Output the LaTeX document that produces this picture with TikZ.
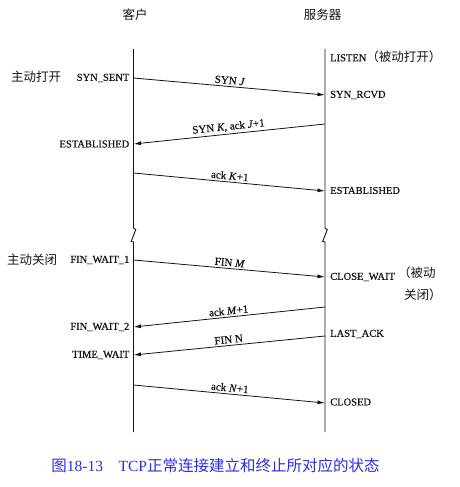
\documentclass[tikz,border=0pt]{standalone}
\usepackage{fontspec}
\setmainfont{Liberation Serif}
\newfontfamily\sfont{Liberation Serif}[FakeBold=0.6]
\newfontfamily\cjk{Noto Sans CJK SC}
\usetikzlibrary{arrows.meta}
\definecolor{capblue}{RGB}{45,45,235}
\definecolor{ink}{RGB}{20,20,20}
\begin{document}
\begin{tikzpicture}[x=1pt,y=-1pt,
  life/.style={draw=ink,line width=0.9pt},
  msg/.style={draw=ink,line width=0.8pt,-{Latex[length=7.5pt,width=4pt]}},
  lstate/.style={anchor=east,inner sep=0pt,font=\sfont\fontsize{10.5}{12}\selectfont,text=ink},
  rstate/.style={anchor=west,inner sep=0pt,font=\sfont\fontsize{10.5}{12}\selectfont,text=ink},
  cjklab/.style={inner sep=0pt,font=\cjk\fontsize{12.5}{14}\selectfont,text=ink},
  mlab/.style={midway,sloped,above,inner sep=2pt,font=\sfont\fontsize{11}{12}\selectfont,text=ink},
]
\useasboundingbox (0,0) rectangle (460,487);

% headers
\node[cjklab] (hc) at (135,15) {客户};
\node[cjklab] (hs) at (322.5,15) {服务器};

% lifelines with break marks
\coordinate (lt) at (133.5,49);
\coordinate (lb) at (133.5,432);
\coordinate (rt) at (325,49);
\coordinate (rb) at (325,432);
\draw[life] (lt) -- (133.5,228) -- (135.8,229.5) -- (131.2,241.5) -- (133.5,242) -- (lb);
\draw[life] (rt) -- (325,228) -- (327.3,229.5) -- (322.7,241.5) -- (325,242) -- (rb);

% endpoints on lifelines
\coordinate (a1) at (133.5,78);   \coordinate (b1) at (325,95);
\coordinate (b2) at (325,124);    \coordinate (a2) at (133.5,144);
\coordinate (a3) at (133.5,173);  \coordinate (b3) at (325,191);
\coordinate (a4) at (133.5,260);  \coordinate (b4) at (325,277);
\coordinate (b5) at (325,307);    \coordinate (a5) at (133.5,327);
\coordinate (b6) at (325,336);    \coordinate (a6) at (133.5,355);
\coordinate (a7) at (133.5,385);  \coordinate (b7) at (325,403);

% messages
\draw[msg] (a1) -- node[mlab] {SYN \textit{J}} (b1);
\draw[msg] (b2) -- node[mlab] {SYN \textit{K}, ack \textit{J}+1} (a2);
\draw[msg] (a3) -- node[mlab] {ack \textit{K}+1} (b3);
\draw[msg] (a4) -- node[mlab] {FIN \textit{M}} (b4);
\draw[msg] (b5) -- node[mlab] {ack \textit{M}+1} (a5);
\draw[msg] (b6) -- node[mlab] {FIN N} (a6);
\draw[msg] (a7) -- node[mlab] {ack \textit{N}+1} (b7);

% left states
\node[lstate] (s1) at (129.5,78) {SYN\_SENT};
\node[cjklab,anchor=west] (o1) at (11,77) {主动打开};
\node[lstate] (s2) at (129.5,144) {ESTABLISHED};
\node[lstate] (s3) at (129.5,260) {FIN\_WAIT\_1};
\node[cjklab,anchor=west] (o2) at (7,260) {主动关闭};
\node[lstate] (s4) at (129.5,327) {FIN\_WAIT\_2};
\node[lstate] (s5) at (129.5,355) {TIME\_WAIT};

% right states
\node[rstate] (r0) at (330,56.5) {LISTEN{\cjk\fontsize{12.5}{14}\selectfont（被动打开）}};
\node[rstate] (r1) at (330,95) {SYN\_RCVD};
\node[rstate] (r2) at (330,190.5) {ESTABLISHED};
\node[rstate] (r3) at (330,277) {CLOSE\_WAIT};
\node[cjklab,anchor=west] (p1) at (398,273) {（被动};
\node[cjklab,anchor=west] (p2) at (404,295) {关闭）};
\node[rstate] (r4) at (330,334) {LAST\_ACK};
\node[rstate] (r5) at (330,402) {CLOSED};

% caption
\node[inner sep=0pt,text=capblue,font=\fontsize{15.5}{17}\selectfont] (cap) at (215.5,466)
  {{\cjk 图}18-13\hspace{1em}TCP{\cjk 正常连接建立和终止所对应的状态}};
\end{tikzpicture}
\end{document}
